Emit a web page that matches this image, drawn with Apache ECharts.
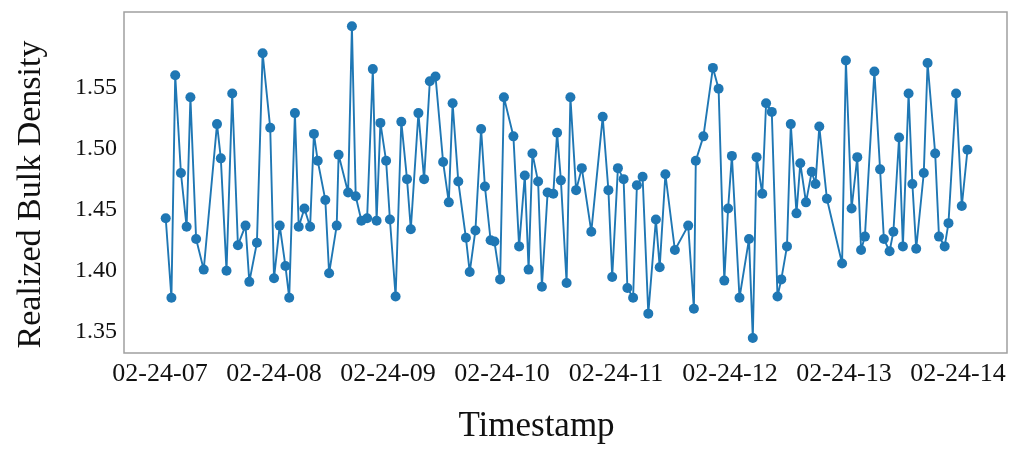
<!DOCTYPE html>
<html>
<head>
<meta charset="utf-8">
<script src="https://cdn.jsdelivr.net/npm/echarts@6/dist/echarts.min.js"></script>
<style>
  html, body { margin: 0; padding: 0; background: #fff; }
  #chart { width: 1017px; height: 450px; }
</style>
</head>
<body>
<div id="chart"></div>
<script>
// Timestamps (all on 02-24)
const times = [
  '07:03','07:06','07:08','07:11','07:14','07:16','07:19','07:23','07:30','07:32',
  '07:35','07:38','07:41','07:45','07:47','07:51','07:54','07:58','08:00','08:03',
  '08:06','08:08','08:11','08:13','08:16','08:19','08:21','08:23','08:27','08:29',
  '08:33','08:34','08:39','08:41','08:43','08:46','08:49','08:52','08:54','08:56',
  '08:59','09:01','09:04','09:07','09:10','09:12','09:16','09:19','09:22','09:25',
  '09:29','09:32','09:34','09:37','09:41','09:43','09:46','09:49','09:51','09:54',
  '09:56','09:59','10:01','10:06','10:09','10:12','10:14','10:16','10:19','10:21',
  '10:24','10:27','10:29','10:31','10:34','10:36','10:39','10:42','10:47','10:53',
  '10:56','10:58','11:01','11:04','11:06','11:09','11:11','11:14','11:17','11:21',
  '11:23','11:26','11:31','11:38','11:41','11:42','11:46','11:51','11:54','11:57',
  '11:59','12:01','12:05','12:10','12:12','12:14','12:17','12:19','12:22','12:25',
  '12:27','12:30','12:32','12:35','12:37','12:40','12:43','12:45','12:47','12:51',
  '12:59','13:01','13:04','13:07','13:09','13:11','13:16','13:19','13:21','13:24',
  '13:26','13:29','13:31','13:34','13:36','13:38','13:42','13:44','13:48','13:50',
  '13:53','13:55','13:59','14:02','14:05'
];

// Realized bulk density values
const density = [
  1.443,1.378,1.560,1.480,1.436,1.542,1.426,1.401,1.520,1.492,
  1.400,1.545,1.421,1.437,1.391,1.423,1.578,1.517,1.394,1.437,
  1.404,1.378,1.529,1.436,1.451,1.436,1.512,1.490,1.458,1.398,
  1.437,1.495,1.464,1.600,1.461,1.441,1.443,1.565,1.441,1.521,
  1.490,1.442,1.379,1.522,1.475,1.434,1.529,1.475,1.555,1.559,
  1.489,1.456,1.537,1.473,1.427,1.399,1.433,1.516,1.469,1.425,
  1.424,1.393,1.542,1.510,1.420,1.478,1.401,1.496,1.473,1.387,
  1.464,1.463,1.513,1.474,1.390,1.542,1.466,1.484,1.432,1.526,
  1.466,1.395,1.484,1.475,1.386,1.378,1.470,1.477,1.365,1.442,
  1.403,1.479,1.417,1.437,1.369,1.490,1.510,1.566,1.549,1.392,
  1.451,1.494,1.378,1.426,1.345,1.493,1.463,1.537,1.530,1.379,
  1.393,1.420,1.520,1.447,1.488,1.456,1.481,1.471,1.518,1.459,
  1.406,1.572,1.451,1.493,1.417,1.428,1.563,1.483,1.426,1.416,
  1.432,1.509,1.420,1.545,1.471,1.418,1.480,1.570,1.496,1.428,
  1.420,1.439,1.545,1.453,1.499
];

// Tick labels
const xTickHours = [7, 8, 9, 10, 11, 12, 13, 14];
const xTickLabels = ['02-24-07','02-24-08','02-24-09','02-24-10','02-24-11','02-24-12','02-24-13','02-24-14'];
const yTicks = [1.35, 1.40, 1.45, 1.50, 1.55];

function toHours(t) {
  const [h, m] = t.split(':').map(Number);
  return h + m / 60;
}
const seriesData = times.map((t, i) => [toHours(t), density[i]]);

const FONT = '"Liberation Serif", "Times New Roman", serif';
const chart = echarts.init(document.getElementById('chart'), null, { renderer: 'canvas' });
chart.setOption({
  animation: false,
  backgroundColor: '#ffffff',
  grid: {
    left: 124, right: 10, top: 12, bottom: 97,
    show: true, borderColor: '#a0a0a0', borderWidth: 1.5, backgroundColor: 'transparent'
  },
  xAxis: {
    type: 'value',
    min: 6.684, max: 14.43,
    name: 'Timestamp',
    nameLocation: 'middle',
    nameGap: 56,
    nameTextStyle: { fontFamily: FONT, fontSize: 35, color: '#111', padding: [0, 58, 0, 0] },
    axisLine: { show: false },
    axisTick: { show: false },
    splitLine: { show: false },
    axisLabel: {
      customValues: xTickHours,
      fontFamily: FONT, fontSize: 26, color: '#111', margin: 8,
      formatter: function (v) {
        const i = xTickHours.indexOf(Math.round(v));
        return i >= 0 ? xTickLabels[i] : '';
      }
    }
  },
  yAxis: {
    type: 'value',
    min: 1.3328, max: 1.6117,
    name: 'Realized Bulk Density',
    nameLocation: 'middle',
    nameGap: 76,
    nameRotate: 90,
    nameTextStyle: { fontFamily: FONT, fontSize: 34, color: '#111', padding: [0, 24, 0, 0] },
    axisLine: { show: false },
    axisTick: { show: false },
    splitLine: { show: false },
    axisLabel: {
      customValues: yTicks,
      fontFamily: FONT, fontSize: 24, color: '#111', margin: 7,
      formatter: function (v) { return v.toFixed(2); }
    }
  },
  series: [{
    type: 'line',
    data: seriesData,
    symbol: 'circle',
    symbolSize: 10,
    showAllSymbol: true,
    lineStyle: { color: '#1f77b4', width: 1.9 },
    itemStyle: { color: '#1f77b4' },
    z: 2
  }]
});
</script>
</body>
</html>
